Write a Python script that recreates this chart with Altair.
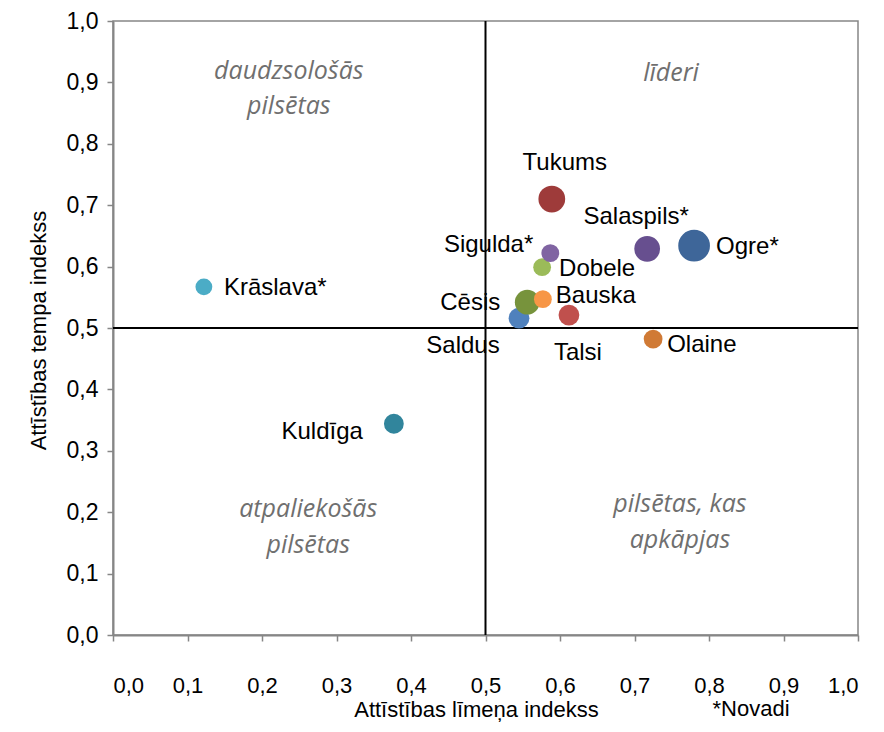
import altair as alt
import pandas as pd

# --- data ---
names = ["Krāslava*", "Kuldīga", "Saldus", "Cēsis", "Bauska", "Dobele", "Sigulda*",
         "Tukums", "Talsi", "Salaspils*", "Ogre*", "Olaine"]
level = [0.122, 0.377, 0.545, 0.556, 0.577, 0.576, 0.587, 0.589, 0.612, 0.717, 0.780, 0.725]
tempo = [0.567, 0.344, 0.516, 0.542, 0.547, 0.599, 0.622, 0.710, 0.521, 0.629, 0.634, 0.482]
weight = [227, 314, 346, 490, 254, 254, 254, 573, 346, 531, 804, 283]
colors = ["#4BACC6", "#31859C", "#4F81BD", "#77933C", "#F79646", "#9BBB59", "#8064A2",
          "#9E3B3A", "#C0504D", "#674F8F", "#3E6699", "#D07A35"]

# label placement (styles, pixel offsets)
label_align = ["left", "right", "center", "right", "left", "left", "right",
               "center", "center", "center", "left", "left"]
label_dx = [20, -31, -56, -27, 13, 17, -17, 13, 9, -11, 22, 14]
label_dy = [1, 8, 28, 1, -3, 2, -8, -36, 38, -32, 1, 6]

quad_text = ["daudzsološās", "pilsētas", "līderi", "atpaliekošās", "pilsētas",
             "pilsētas, kas", "apkāpjas"]
quad_x = [0.236, 0.236, 0.749, 0.262, 0.262, 0.761, 0.761]
quad_y = [0.919, 0.862, 0.915, 0.205, 0.147, 0.213, 0.155]

ticks = [round(i * 0.1, 1) for i in range(11)]

df = pd.DataFrame({"name": names, "level": level, "tempo": tempo, "weight": weight})
qdf = pd.DataFrame({"t": quad_text, "x": quad_x, "y": quad_y})

FONT = "Liberation Sans"
W, H = 745, 614

xscale = alt.Scale(domain=[0, 1], nice=False, zero=False)
yscale = alt.Scale(domain=[0, 1], nice=False, zero=False)

xaxis = alt.Axis(values=ticks, format=".1f", labelExpr="replace(datum.label, '.', ',')",
                 title="Attīstības līmeņa indekss", grid=False, tickSize=6,
                 labelPadding=34, labelFontSize=22, titleX=363, titleY=74,
                 titleBaseline="middle", titleAlign="center")
yaxis = alt.Axis(values=ticks, format=".1f", labelExpr="replace(datum.label, '.', ',')",
                 title="Attīstības tempa indekss", grid=False, tickSize=6,
                 labelPadding=9, titleX=-75, titleY=309, titleAngle=-90,
                 titleBaseline="middle", titleAlign="center")

base = alt.Chart(df)

points = base.mark_circle(opacity=1).encode(
    x=alt.X("level:Q", scale=xscale, axis=xaxis),
    y=alt.Y("tempo:Q", scale=yscale, axis=yaxis),
    size=alt.Size("weight:Q", scale=alt.Scale(type="linear", domain=[0, 1000], range=[0, 1250]),
                  legend=None),
    color=alt.Color("name:N", scale=alt.Scale(domain=names, range=colors), legend=None),
)

label_layers = []
for i, n in enumerate(names):
    label_layers.append(
        alt.Chart(df[df["name"] == n]).mark_text(
            font=FONT, fontSize=24, color="#000000", align=label_align[i],
            baseline="middle", dx=label_dx[i], dy=label_dy[i]
        ).encode(x="level:Q", y="tempo:Q", text="name:N")
    )

quads = alt.Chart(qdf).mark_text(
    font="Open Sans", fontStyle="italic", fontSize=25, color="#6f6f6f",
    align="center", baseline="middle"
).encode(x="x:Q", y="y:Q", text="t:N")

vline = alt.Chart(pd.DataFrame({"v": [0.5]})).mark_rule(color="#000000", strokeWidth=2).encode(x="v:Q")
hline = alt.Chart(pd.DataFrame({"v": [0.5]})).mark_rule(color="#000000", strokeWidth=2).encode(y="v:Q")

novadi = alt.Chart(pd.DataFrame({"t": ["*Novadi"]})).mark_text(
    font=FONT, fontSize=22, color="#000000", align="center", baseline="middle"
).encode(x=alt.value(638), y=alt.value(688), text="t:N")

chart = alt.layer(quads, *label_layers, vline, hline, points, novadi).properties(
    width=W, height=H,
    autosize=alt.AutoSizeParams(type="none"),
    padding={"left": 105, "top": 13, "right": 18, "bottom": 89},
).configure_view(
    stroke="#868686", strokeWidth=1.5
).configure_axis(
    domainColor="#868686", domainWidth=2, tickColor="#868686", tickWidth=1.5,
    labelFont=FONT, labelFontSize=23, labelColor="#000000",
    titleFont=FONT, titleFontSize=22, titleColor="#000000", titleFontWeight="normal",
)

chart.save("out.html", embed_options={"renderer": "svg", "actions": False})
